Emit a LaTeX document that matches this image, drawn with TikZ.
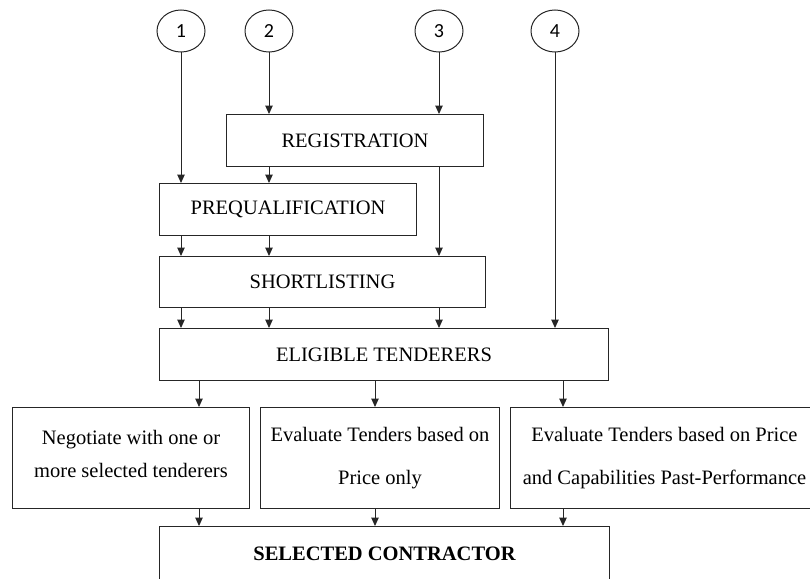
\documentclass[tikz,border=0pt]{standalone}
\usepackage{fontspec}
\setmainfont{Liberation Serif}
\newfontfamily\numfont{Carlito}
\usetikzlibrary{arrows.meta,shapes.geometric}
\begin{document}
\begin{tikzpicture}[x=1pt,y=-1pt,
  lw/.style={line width=1pt, draw=black!85},
  box/.style={lw, rectangle, inner sep=0pt, anchor=north west, align=center,
    font=\fontsize{20.5}{24}\selectfont},
  numc/.style={lw, ellipse, minimum width=48pt, minimum height=42pt, inner sep=0pt,
    font=\numfont\fontsize{20}{22}\selectfont},
  arr/.style={lw, -{Triangle[length=8.5pt,width=7.5pt]}}
]
\useasboundingbox (0,0) rectangle (810,578);
% circles
\node[numc] (c1) at (181,31) {1};
\node[numc] (c2) at (269,31) {2};
\node[numc] (c3) at (439,31) {3};
\node[numc] (c4) at (555,31) {4};
% boxes
\node[box, minimum width=257pt, minimum height=52pt] (reg) at (226,114) {REGISTRATION};
\node[box, minimum width=257pt, minimum height=52pt] (pre) at (159,183) {PREQUALIFICATION};
\node[box, minimum width=326pt, minimum height=51pt] (sl) at (159,256) {SHORTLISTING};
\node[box, minimum width=449pt, minimum height=52pt] (el) at (159,328) {ELIGIBLE TENDERERS};
\node[box, minimum width=237pt, minimum height=101pt, text depth=9pt, font=\fontsize{20.5}{33}\selectfont] (neg) at (12,407)
  {Negotiate with one or\\ more selected tenderers};
\node[box, minimum width=239pt, minimum height=101pt, font=\fontsize{20.5}{43}\selectfont] (evp) at (260,407)
  {Evaluate Tenders based on\\ Price only};
\node[box, minimum width=308pt, minimum height=101pt, font=\fontsize{20.5}{43}\selectfont] (evc) at (510,407)
  {Evaluate Tenders based on Price\\ and Capabilities Past-Performance};
\node[box, minimum width=450pt, minimum height=54pt, font=\fontsize{20.5}{24}\selectfont\bfseries] (sel) at (159,526)
  {SELECTED CONTRACTOR};
% x positions for lower arrows
\coordinate (ta) at (199,0);
\coordinate (tb) at (375,0);
\coordinate (tc) at (563,0);
% connectors
\draw[arr] (c1.south) -- (pre.north -| c1.south);
\draw[arr] (c2.south) -- (reg.north -| c2.south);
\draw[arr] (c3.south) -- (reg.north -| c3.south);
\draw[arr] (reg.south -| c2.south) -- (pre.north -| c2.south);
\draw[arr] (reg.south -| c3.south) -- (sl.north -| c3.south);
\draw[arr] (pre.south -| c1.south) -- (sl.north -| c1.south);
\draw[arr] (pre.south -| c2.south) -- (sl.north -| c2.south);
\draw[arr] (sl.south -| c1.south) -- (el.north -| c1.south);
\draw[arr] (sl.south -| c2.south) -- (el.north -| c2.south);
\draw[arr] (sl.south -| c3.south) -- (el.north -| c3.south);
\draw[arr] (c4.south) -- (el.north -| c4.south);
\draw[arr] (el.south -| ta) -- (neg.north -| ta);
\draw[arr] (el.south -| tb) -- (evp.north -| tb);
\draw[arr] (el.south -| tc) -- (evc.north -| tc);
\draw[arr] (neg.south -| ta) -- (sel.north -| ta);
\draw[arr] (evp.south -| tb) -- (sel.north -| tb);
\draw[arr] (evc.south -| tc) -- (sel.north -| tc);
\end{tikzpicture}
\end{document}
